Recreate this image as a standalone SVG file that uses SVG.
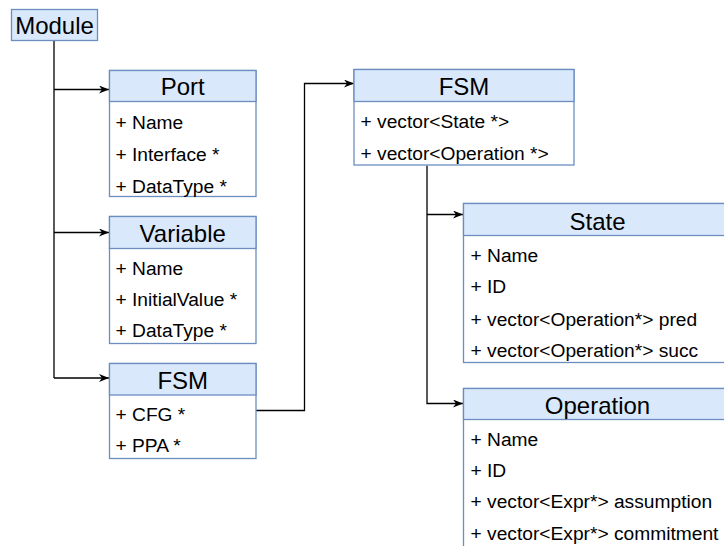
<svg xmlns="http://www.w3.org/2000/svg" width="724" height="546" viewBox="0 0 724 546">
  <style>
    .hdr { fill: #dae8fc; stroke: #6c8ebf; stroke-width: 1.3; }
    .body { fill: #ffffff; stroke: #6c8ebf; stroke-width: 1.3; }
    .title { font-family: "Liberation Sans", Arial, sans-serif; font-size: 24px; fill: #000; text-anchor: middle; }
    .attr { font-family: "Liberation Sans", Arial, sans-serif; font-size: 19.2px; fill: #000; }
    .edge { fill: none; stroke: #000; stroke-width: 1.3; }
  </style>
  <defs>
    <marker id="arrow" viewBox="0 0 10 8" refX="10" refY="4" markerWidth="10" markerHeight="8" markerUnits="userSpaceOnUse" orient="auto">
      <path d="M0,0 L10,4 L0,8 L3,4 Z" fill="#000"/>
    </marker>
  </defs>

  <!-- connectors -->
  <g id="connectors">
    <path class="edge" d="M54,40.5 V378"/>
    <path class="edge" d="M54,89.5 H109" marker-end="url(#arrow)"/>
    <path class="edge" d="M54,232.5 H109" marker-end="url(#arrow)"/>
    <path class="edge" d="M54,378 H109" marker-end="url(#arrow)"/>
    <path class="edge" d="M256,410.5 H304.5 V83.5 H354" marker-end="url(#arrow)"/>
    <path class="edge" d="M427,165.5 V403.5 H463" marker-end="url(#arrow)"/>
    <path class="edge" d="M427,214.5 H463" marker-end="url(#arrow)"/>
  </g>

  <!-- Module -->
  <g id="module">
    <rect class="hdr" x="11.5" y="9.5" width="86" height="31"/>
    <text class="title" x="54.5" y="34">Module</text>
  </g>

  <!-- Port -->
  <g id="port">
    <rect class="body" x="109.5" y="70.5" width="146.5" height="126"/>
    <rect class="hdr" x="109.5" y="70.5" width="146.5" height="31"/>
    <text class="title" x="182.75" y="95">Port</text>
    <text class="attr" x="115.5" y="128.5">+ Name</text>
    <text class="attr" x="115.5" y="160.5">+ Interface *</text>
    <text class="attr" x="115.5" y="192.5">+ DataType *</text>
  </g>

  <!-- Variable -->
  <g id="variable">
    <rect class="body" x="109.5" y="216.5" width="146.5" height="127"/>
    <rect class="hdr" x="109.5" y="216.5" width="146.5" height="32"/>
    <text class="title" x="182.75" y="242">Variable</text>
    <text class="attr" x="115.5" y="275">+ Name</text>
    <text class="attr" x="115.5" y="306">+ InitialValue *</text>
    <text class="attr" x="115.5" y="337">+ DataType *</text>
  </g>

  <!-- FSM (module level) -->
  <g id="fsm-module">
    <rect class="body" x="109.5" y="363.5" width="146.5" height="95"/>
    <rect class="hdr" x="109.5" y="363.5" width="146.5" height="31.5"/>
    <text class="title" x="182.75" y="388.5">FSM</text>
    <text class="attr" x="115.5" y="420.5">+ CFG *</text>
    <text class="attr" x="115.5" y="451.5">+ PPA *</text>
  </g>

  <!-- FSM (detail) -->
  <g id="fsm-detail">
    <rect class="body" x="354" y="69.5" width="220" height="95.5"/>
    <rect class="hdr" x="354" y="69.5" width="220" height="32"/>
    <text class="title" x="464" y="95">FSM</text>
    <text class="attr" x="360.5" y="128">+ vector&lt;State *&gt;</text>
    <text class="attr" x="360.5" y="159.5">+ vector&lt;Operation *&gt;</text>
  </g>

  <!-- State -->
  <g id="state">
    <rect class="body" x="463.5" y="203.5" width="268" height="159"/>
    <rect class="hdr" x="463.5" y="203.5" width="268" height="32"/>
    <text class="title" x="597.5" y="230">State</text>
    <text class="attr" x="470.5" y="261.5">+ Name</text>
    <text class="attr" x="470.5" y="293">+ ID</text>
    <text class="attr" x="470.5" y="325.5">+ vector&lt;Operation*&gt; pred</text>
    <text class="attr" x="470.5" y="356.5">+ vector&lt;Operation*&gt; succ</text>
  </g>

  <!-- Operation -->
  <g id="operation">
    <rect class="body" x="463.5" y="388.5" width="268" height="170"/>
    <rect class="hdr" x="463.5" y="388.5" width="268" height="31"/>
    <text class="title" x="597.5" y="414">Operation</text>
    <text class="attr" x="470.5" y="446">+ Name</text>
    <text class="attr" x="470.5" y="477">+ ID</text>
    <text class="attr" x="470.5" y="508">+ vector&lt;Expr*&gt; assumption</text>
    <text class="attr" x="470.5" y="539.5">+ vector&lt;Expr*&gt; commitment</text>
  </g>
</svg>
